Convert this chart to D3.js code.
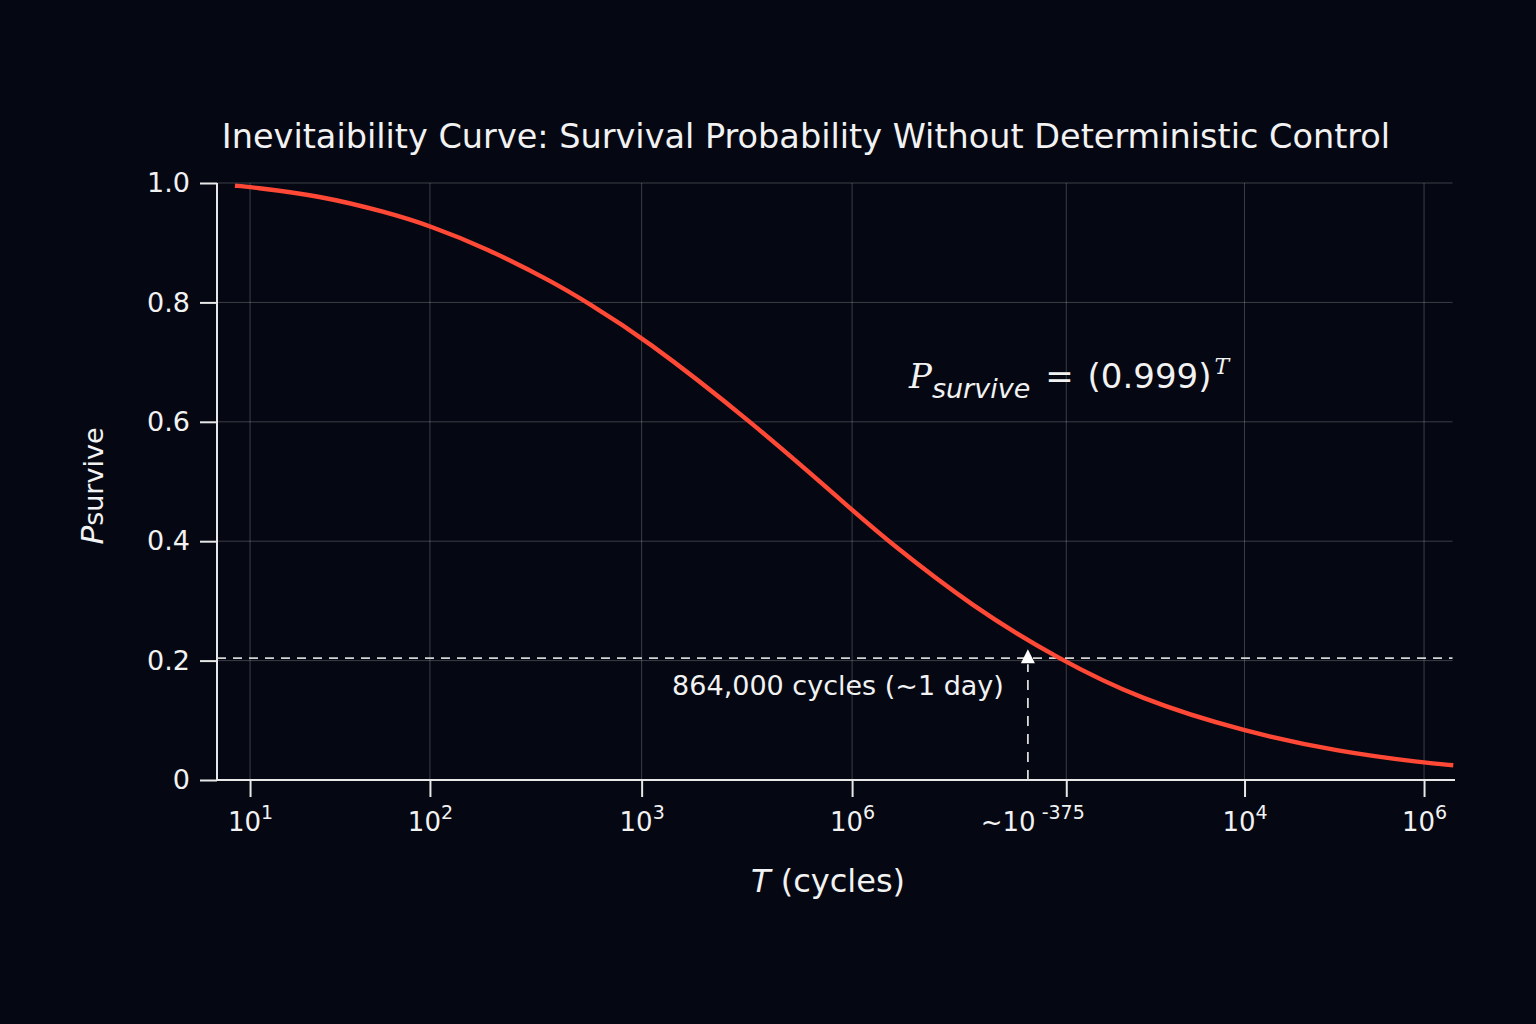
<!DOCTYPE html>
<html>
<head>
<meta charset="utf-8">
<script src="https://cdn.jsdelivr.net/npm/d3@7"></script>
<style>
  html, body { margin: 0; padding: 0; background: #050812; }
  svg { display: block; }
  text { font-family: "DejaVu Sans", sans-serif; fill: #f2f2f2; }
</style>
</head>
<body>
<svg id="chart" width="1536" height="1024"></svg>
<script>
// ---- data ----
const titleText = "Inevitaibility Curve: Survival Probability Without Deterministic Control";
// x positions are in an abstract axis unit (0..100 across the plot)
const xTickValues = [2.67, 17.2, 34.3, 51.3, 68.6, 83.0, 97.5];
const xTickBases  = ["10", "10", "10", "10", "~10", "10", "10"];
const xTickExps   = ["1", "2", "3", "6", "-375", "4", "6"];
const yTickValues = [0, 0.2, 0.4, 0.6, 0.8, 1.0];
const yTickLabels = ["0", "0.2", "0.4", "0.6", "0.8", "1.0"];
const curveX = [1.45, 2.69, 8.32, 13.71, 17.2, 21.79, 27.16, 29.9, 34.37, 43.19, 51.32, 54.2, 61.09, 67.85, 74.56, 82.98, 90.71, 97.5, 99.86];
const curveY = [0.9955, 0.9933, 0.9787, 0.951, 0.9285, 0.8905, 0.834, 0.80, 0.742, 0.60, 0.452, 0.40, 0.289, 0.204, 0.135, 0.081, 0.047, 0.029, 0.0246];
const thresholdY = 0.204;
const markerX = 65.5;
const annotationText = "864,000 cycles (~1 day)";

// ---- layout ----
const svg = d3.select("#chart");
svg.append("rect").attr("width", 1536).attr("height", 1024).attr("fill", "#050812");

const x = d3.scaleLinear().domain([0, 100]).range([217, 1455]);
const y = d3.scaleLinear().domain([0, 1]).range([780, 183]);

const gridColor = "rgba(255,255,255,0.22)";

// grid
const g = svg.append("g");
g.selectAll(".vg").data(xTickValues).join("line")
  .attr("x1", d => x(d)).attr("x2", d => x(d))
  .attr("y1", y(1)).attr("y2", y(0))
  .attr("stroke", gridColor).attr("stroke-width", 1);
g.selectAll(".hg").data(yTickValues.filter(v => v > 0)).join("line")
  .attr("x1", x(0)).attr("x2", x(99.8))
  .attr("y1", d => y(d)).attr("y2", d => y(d))
  .attr("stroke", gridColor).attr("stroke-width", 1);

// axes
const yAxis = d3.axisLeft(y).tickValues(yTickValues).tickFormat((d, i) => yTickLabels[i])
  .tickSize(17).tickPadding(10);
const yg = svg.append("g").attr("transform", `translate(${x(0)},0)`).call(yAxis);
yg.select(".domain").attr("stroke", "#e8e8e8").attr("stroke-width", 2).attr("d", `M0,${y(1)}V${y(0)}`);
yg.selectAll(".tick line").attr("stroke", "#e8e8e8").attr("stroke-width", 2);
yg.selectAll(".tick text").attr("font-size", 27).attr("fill", "#f0f0f0")
  .attr("font-family", "DejaVu Sans");

const xAxis = d3.axisBottom(x).tickValues(xTickValues).tickFormat(() => "").tickSize(17);
const xg = svg.append("g").attr("transform", `translate(0,${y(0)})`).call(xAxis);
xg.select(".domain").attr("stroke", "#e8e8e8").attr("stroke-width", 2).attr("d", `M${x(0)},0H${x(100)}`);
xg.selectAll(".tick line").attr("stroke", "#e8e8e8").attr("stroke-width", 2);
xg.selectAll(".tick").each(function(d, i) {
  const t = d3.select(this).append("text")
    .attr("y", 51).attr("text-anchor", "middle").attr("font-size", 26)
    .attr("dx", xTickBases[i].startsWith("~") ? -34 : 0)
    .attr("fill", "#f0f0f0").attr("font-family", "DejaVu Sans");
  t.append("tspan").text(xTickBases[i]);
  t.append("tspan").attr("dy", -12).attr("font-size", 19)
    .attr("dx", xTickExps[i].startsWith("-") ? 6 : 0).text(xTickExps[i]);
});

// threshold dashed line
svg.append("line")
  .attr("x1", x(0)).attr("x2", x(99.8))
  .attr("y1", y(thresholdY)).attr("y2", y(thresholdY))
  .attr("stroke", "#d4d4d4").attr("stroke-width", 1.8).attr("stroke-dasharray", "9,7");

// vertical marker with arrowhead
svg.append("line")
  .attr("x1", x(markerX)).attr("x2", x(markerX))
  .attr("y1", y(0)).attr("y2", y(thresholdY) + 6)
  .attr("stroke", "#dadada").attr("stroke-width", 1.8).attr("stroke-dasharray", "10,8");
svg.append("path")
  .attr("d", `M${x(markerX)},${y(thresholdY) - 9}L${x(markerX) - 7},${y(thresholdY) + 5}L${x(markerX) + 7},${y(thresholdY) + 5}Z`)
  .attr("fill", "#ffffff");

// curve
const pts = curveX.map((v, i) => [v, curveY[i]]);
svg.append("path")
  .datum(pts)
  .attr("d", d3.line().x(d => x(d[0])).y(d => y(d[1])).curve(d3.curveBasis))
  .attr("fill", "none").attr("stroke", "#ff4835").attr("stroke-width", 4.4)
  .attr("stroke-linecap", "butt");

// annotation
svg.append("text")
  .attr("x", x(markerX) - 24).attr("y", y(thresholdY) + 37)
  .attr("text-anchor", "end").attr("font-size", 27).attr("fill", "#f0f0f0")
  .text(annotationText);

// formula
const f = svg.append("text").attr("x", 909).attr("y", 388).attr("font-size", 34).attr("fill", "#f4f4f4");
f.append("tspan").attr("font-family", "DejaVu Serif").attr("font-style", "italic").text("P");
f.append("tspan").attr("font-family", "DejaVu Sans").attr("font-style", "oblique")
  .attr("font-size", 27).attr("dy", 10).text("survive");
f.append("tspan").attr("font-family", "DejaVu Sans").attr("dy", -10).attr("dx", 15).text("= ");
f.append("tspan").attr("font-family", "DejaVu Sans").attr("dx", 3).text("(0.999)");
f.append("tspan").attr("font-family", "DejaVu Serif").attr("font-style", "italic")
  .attr("font-size", 22).attr("dy", -14).attr("dx", 3).text("T");

// title
svg.append("text").attr("x", 806).attr("y", 148).attr("text-anchor", "middle")
  .attr("font-size", 33.5).attr("fill", "#f4f4f4").text(titleText);

// x label
const xl = svg.append("text").attr("x", 828).attr("y", 892).attr("text-anchor", "middle")
  .attr("font-size", 32).attr("fill", "#f0f0f0");
xl.append("tspan").attr("font-style", "oblique").text("T");
xl.append("tspan").text(" (cycles)");

// y label
const yl = svg.append("text").attr("transform", "translate(103,486) rotate(-90)")
  .attr("text-anchor", "middle").attr("font-size", 27).attr("fill", "#f0f0f0");
yl.append("tspan").attr("font-style", "oblique").attr("font-size", 31).text("P");
yl.append("tspan").text("survive");
</script>
</body>
</html>
